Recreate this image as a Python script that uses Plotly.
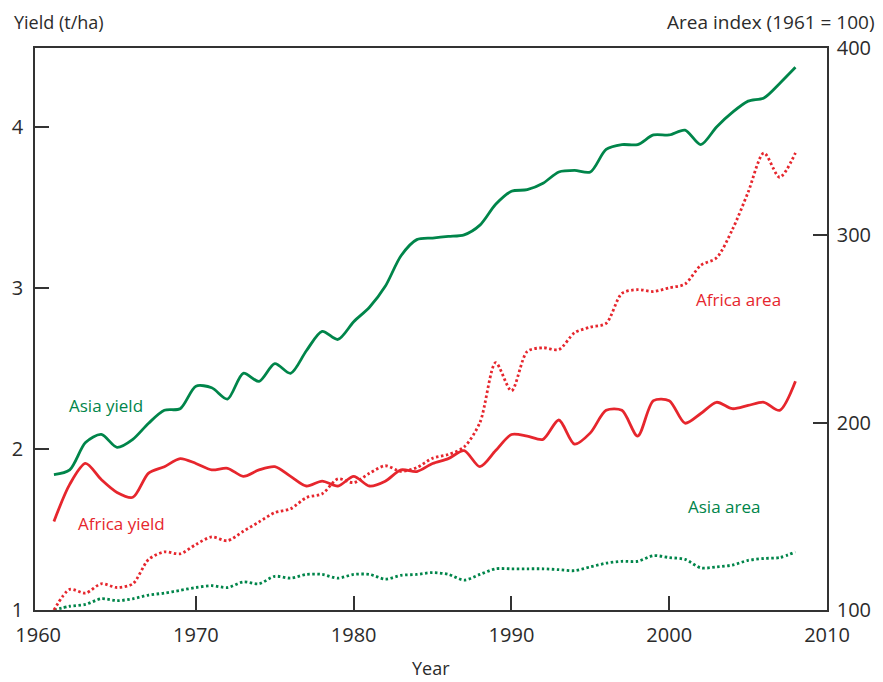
import plotly.graph_objects as go

years = list(range(1961, 2009))

asia_yield = [1.84, 1.87, 2.04, 2.09, 2.01, 2.06, 2.16, 2.24, 2.25, 2.39,
              2.38, 2.31, 2.47, 2.42, 2.53, 2.47, 2.61, 2.73, 2.68, 2.79,
              2.88, 3.01, 3.20, 3.30, 3.31, 3.32, 3.33, 3.39, 3.52, 3.60,
              3.61, 3.65, 3.72, 3.73, 3.72, 3.86, 3.89, 3.89, 3.95, 3.95,
              3.98, 3.89, 4.00, 4.09, 4.16, 4.18, 4.27, 4.37]

africa_yield = [1.55, 1.78, 1.91, 1.81, 1.73, 1.70, 1.85, 1.89, 1.94, 1.91,
                1.87, 1.88, 1.83, 1.87, 1.89, 1.83, 1.77, 1.80, 1.77, 1.83,
                1.77, 1.80, 1.87, 1.86, 1.91, 1.94, 1.99, 1.89, 1.99, 2.09,
                2.08, 2.06, 2.18, 2.03, 2.10, 2.24, 2.24, 2.08, 2.30, 2.30,
                2.16, 2.22, 2.29, 2.25, 2.27, 2.29, 2.24, 2.42]

africa_area = [100, 111, 109, 114, 112, 114, 127, 131, 130, 135,
               139, 137, 142, 147, 152, 154, 160, 162, 170, 168,
               173, 177, 174, 176, 181, 183, 187, 200, 232, 217,
               238, 240, 239, 248, 251, 253, 269, 271, 270, 272,
               274, 284, 288, 303, 323, 344, 331, 344]

asia_area = [100, 102, 103, 106, 105, 106, 108, 109, 110.5, 112,
             113, 112, 115, 114, 118, 117, 119, 119, 117, 119,
             119, 116.5, 118.5, 119, 120, 119, 116, 119, 122, 122,
             122, 122, 121.5, 121, 123, 125, 126, 126, 129, 128,
             127, 122.5, 123, 124, 126.5, 127.5, 128, 131]

x_labels = [1960, 1970, 1980, 1990, 2000, 2010]
x_tick_marks = [1970, 1980, 1990, 2000]
y_ticks = [1, 2, 3, 4]
y2_ticks = [100, 200, 300, 400]

GREEN = "#00854A"
RED = "#E6262D"
TXT = "#2b2b2b"
AX = "#333333"
FONT = "Open Sans, Liberation Sans, Arial, sans-serif"
X_RANGE = [1959.8, 2010]

fig = go.Figure()
dot = "2.5px,2.5px"
fig.add_trace(go.Scatter(x=years, y=asia_area, xaxis="x2", yaxis="y2", mode="lines",
                         line=dict(color=GREEN, width=2.8, dash=dot, shape="spline", smoothing=0.8),
                         hoverinfo="skip", showlegend=False))
fig.add_trace(go.Scatter(x=years, y=africa_area, xaxis="x2", yaxis="y2", mode="lines",
                         line=dict(color=RED, width=2.8, dash=dot, shape="spline", smoothing=0.8),
                         hoverinfo="skip", showlegend=False))
fig.add_trace(go.Scatter(x=years, y=africa_yield, mode="lines",
                         line=dict(color=RED, width=2.8, shape="spline", smoothing=0.8),
                         hoverinfo="skip", showlegend=False))
fig.add_trace(go.Scatter(x=years, y=asia_yield, mode="lines",
                         line=dict(color=GREEN, width=2.8, shape="spline", smoothing=0.8),
                         hoverinfo="skip", showlegend=False))

axis_common = dict(showgrid=False, zeroline=False, showline=True, linecolor=AX,
                   linewidth=1.5, ticks="inside", ticklen=14, tickwidth=1.5, tickcolor=AX,
                   tickfont=dict(family=FONT, size=20, color=TXT))

fig.update_layout(
    width=883, height=682,
    margin=dict(l=33, r=53, t=48, b=72),
    paper_bgcolor="white", plot_bgcolor="white",
    font=dict(family=FONT, color=TXT),
    xaxis=dict(range=X_RANGE, tickvals=x_labels, mirror=True, ticklabelstandoff=6,
               **{**axis_common, "ticks": ""}),
    xaxis2=dict(range=X_RANGE, tickvals=x_tick_marks, overlaying="x", side="bottom",
                showticklabels=False, anchor="y2", **{**axis_common, "showline": False}),
    yaxis=dict(range=[1, 4.49], tickvals=y_ticks, ticklabelstandoff=6, **axis_common),
    yaxis2=dict(range=[100, 400], tickvals=y2_ticks, overlaying="y", side="right",
                anchor="x2", ticklabelstandoff=4, **axis_common),
    annotations=[
        dict(text="Yield (t/ha)", xref="paper", yref="paper", x=-0.029, y=1.046,
             xanchor="left", yanchor="middle", showarrow=False, font=dict(size=18, color=TXT)),
        dict(text="Area index (1961 = 100)", xref="paper", yref="paper", x=1.0627, y=1.046,
             xanchor="right", yanchor="middle", showarrow=False, font=dict(size=19, color=TXT)),
        dict(text="Year", xref="paper", yref="paper", x=0.5006, y=-0.104,
             xanchor="center", yanchor="middle", showarrow=False, font=dict(size=18, color=TXT)),
        dict(text="Asia yield", x=1964.33, y=2.27, xref="x", yref="y", showarrow=False,
             font=dict(size=17, color=GREEN)),
        dict(text="Africa yield", x=1965.27, y=1.54, xref="x", yref="y", showarrow=False,
             font=dict(size=17, color=RED)),
        dict(text="Africa area", x=2004.42, y=265.9, xref="x", yref="y2", showarrow=False,
             font=dict(size=17, color=RED)),
        dict(text="Asia area", x=2003.48, y=155.5, xref="x", yref="y2", showarrow=False,
             font=dict(size=17, color=GREEN)),
    ],
)

fig.write_html("out.html", config={"displayModeBar": False},
               post_script="document.body.style.margin='0';")
